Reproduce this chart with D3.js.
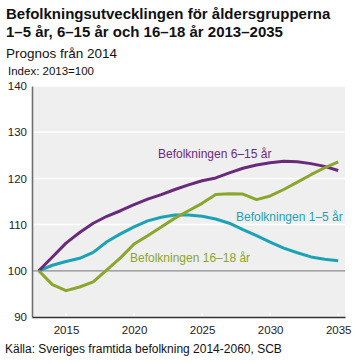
<!DOCTYPE html>
<html><head><meta charset="utf-8">
<script src="https://cdn.jsdelivr.net/npm/d3@7"></script>
<style>body{margin:0;background:#fff;font-family:"Liberation Sans",Arial,sans-serif;}</style>
</head><body><svg id="c" width="355" height="363"></svg>
<script>
const years = d3.range(2013, 2036);
const pop1_5 = [100,101.2,102,102.7,104,106.3,108,109.5,110.8,111.6,112.1,112.1,111.8,111.2,110.3,108.9,107.6,106.2,104.9,103.9,103.0,102.5,102.2];
const pop6_15 = [100,103,106,108.3,110.3,111.8,113,114.3,115.5,116.5,117.6,118.6,119.5,120.1,121.2,122.2,122.9,123.4,123.7,123.6,123.2,122.6,121.7];
const pop16_18 = [100,97,95.7,96.5,97.6,100.2,102.8,105.8,107.6,109.5,111.4,113,114.6,116.5,116.7,116.6,115.4,116.2,117.6,119.2,120.8,122.3,123.6];
const yTicks = [90,100,110,120,130,140];
const xTicks = [2015,2020,2025,2030,2035];
const seriesNames = ["Befolkningen 1–5 år","Befolkningen 6–15 år","Befolkningen 16–18 år"];
const colors = ["#1ba3b5","#6a2a7c","#8aa62c"];

const svg = d3.select("#c");
const L=32, R=345, T=86, B=317;
const x = d3.scaleLinear().domain([2012.5,2035.5]).range([L,R]);
const y = d3.scaleLinear().domain([90,140]).range([B,T]);

// titles
svg.append("text").attr("x",6).attr("y",19).attr("font-size",15).attr("font-weight","bold").attr("fill","#111").text("Befolkningsutvecklingen för åldersgrupperna");
svg.append("text").attr("x",6).attr("y",37).attr("font-size",15).attr("font-weight","bold").attr("fill","#111").text("1–5 år, 6–15 år och 16–18 år 2013–2035");
svg.append("text").attr("x",6).attr("y",57.5).attr("font-size",13.5).attr("fill","#111").text("Prognos från 2014");
svg.append("text").attr("x",8).attr("y",75.3).attr("font-size",11.5).attr("fill","#111").text("Index: 2013=100");

// background
svg.append("rect").attr("x",L).attr("y",T).attr("width",R-L).attr("height",B-T).attr("fill","#efefef");
// gridlines
svg.append("g").selectAll("line").data(yTicks.filter(d=>d>100)).join("line")
  .attr("x1",L).attr("x2",R).attr("y1",d=>y(d)).attr("y2",d=>y(d)).attr("stroke","#fff").attr("stroke-width",1.5);
svg.append("line").attr("x1",L).attr("x2",R).attr("y1",y(100)).attr("y2",y(100)).attr("stroke","#8c8c8c").attr("stroke-width",1.2);

// y axis
const ya = svg.append("g").attr("transform",`translate(${L},0)`).call(d3.axisLeft(y).tickValues(yTicks).tickSize(0).tickPadding(5));
ya.select(".domain").attr("stroke","#6e6e6e").attr("stroke-width",1.6);
ya.selectAll("text").attr("font-size",11.5).attr("fill","#222").attr("font-family","Liberation Sans, Arial, sans-serif");

// x axis
const xa = svg.append("g").attr("transform",`translate(0,${B})`).call(d3.axisBottom(x).tickValues(xTicks).tickFormat(d3.format("d")).tickSize(0).tickPadding(9));
xa.select(".domain").attr("stroke","#333").attr("stroke-width",1.6);
xa.selectAll("text").attr("font-size",11.5).attr("fill","#222").attr("font-family","Liberation Sans, Arial, sans-serif");
svg.append("g").selectAll("line").data(xTicks).join("line")
  .attr("x1",d=>x(d)).attr("x2",d=>x(d)).attr("y1",B-4).attr("y2",B-1).attr("stroke","#fff").attr("stroke-width",1);

// lines
const line = d3.line().x((d,i)=>x(years[i])).y(d=>y(d));
[pop1_5,pop6_15,pop16_18].forEach((s,i)=>{
  svg.append("path").datum(s).attr("d",line).attr("fill","none").attr("stroke",colors[i]).attr("stroke-width",3).attr("stroke-linejoin","round");
});

// labels
const lab = [[236,221],[158,157.5],[130,262]];
seriesNames.forEach((n,i)=>{
  svg.append("text").attr("x",lab[i][0]).attr("y",lab[i][1]).attr("font-size",12).attr("fill",colors[i]).text(n);
});

svg.append("text").attr("x",5).attr("y",353.3).attr("font-size",12).attr("fill","#111").text("Källa: Sveriges framtida befolkning 2014-2060, SCB");
</script></body></html>
